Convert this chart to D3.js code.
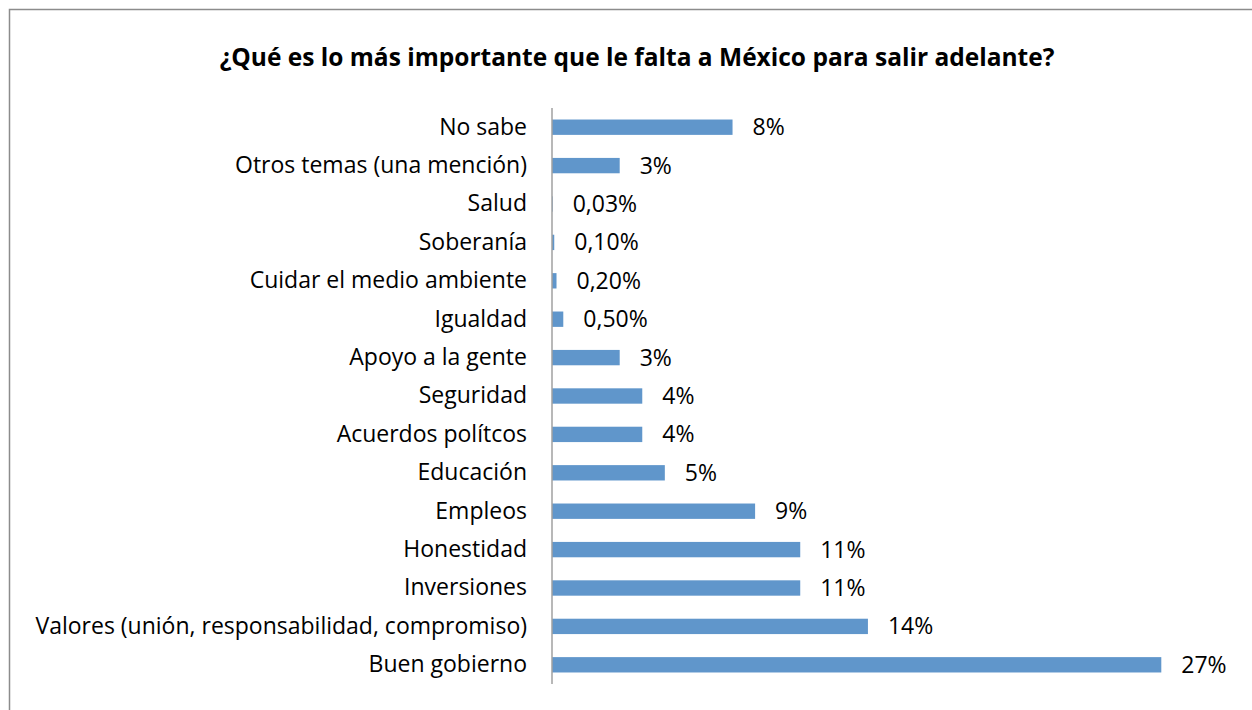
<!DOCTYPE html>
<html>
  <head>
    <meta charset="utf-8">
    <title>falta a México</title>
    <script src="https://cdn.jsdelivr.net/npm/d3@7"></script>
    <style>
      body { margin: 0; background: #fff; }
      text { font-family: "Open Sans", "DejaVu Sans", sans-serif; fill: #000; }
    </style>
  </head>
  <body>
    <svg width="1252" height="710"></svg>
    <script>
      // datos, de arriba hacia abajo
      var categories = [
        "No sabe",
        "Otros temas (una mención)",
        "Salud",
        "Soberanía",
        "Cuidar el medio ambiente",
        "Igualdad",
        "Apoyo a la gente",
        "Seguridad",
        "Acuerdos polítcos",
        "Educación",
        "Empleos",
        "Honestidad",
        "Inversiones",
        "Valores (unión, responsabilidad, compromiso)",
        "Buen gobierno"
      ];
      var values = [8, 3, 0.03, 0.1, 0.2, 0.5, 3, 4, 4, 5, 9, 11, 11, 14, 27];
      var valueLabels = ["8%", "3%", "0,03%", "0,10%", "0,20%", "0,50%", "3%", "4%", "4%", "5%", "9%", "11%", "11%", "14%", "27%"];
      var title = "¿Qué es lo más importante que le falta a México para salir adelante?";

      var svg = d3.select("svg");

      // marco del gráfico
      svg.append("rect")
        .attr("x", 9.5).attr("y", 9.5)
        .attr("width", 1300).attr("height", 800)
        .attr("fill", "#fff")
        .attr("stroke", "#8c8c8c")
        .attr("stroke-width", 1.5);

      svg.append("text")
        .attr("x", 637).attr("y", 66)
        .attr("text-anchor", "middle")
        .attr("font-size", 24.5)
        .attr("font-weight", "bold")
        .text(title);

      var data = categories.map(function(c, i) {
        return {name: c, value: values[i], label: valueLabels[i]};
      });

      var x = d3.scaleLinear().domain([0, 30]).range([552, 1229]);
      var y = d3.scaleBand().domain(categories).range([108, 684])
        .paddingInner(0.6).paddingOuter(0.3);

      svg.append("g").selectAll("rect")
        .data(data)
        .enter()
        .append("rect")
        .attr("x", x(0))
        .attr("y", function(d) { return y(d.name); })
        .attr("width", function(d) { return x(d.value) - x(0); })
        .attr("height", y.bandwidth())
        .attr("fill", "#6096cb");

      // eje vertical con las categorías
      var yAxis = svg.append("g")
        .attr("transform", "translate(" + x(0) + ",0)")
        .call(d3.axisLeft(y).tickSize(0).tickPadding(25));
      yAxis.select(".domain").attr("stroke", "#a0a0a0").attr("stroke-width", 1.5)
        .attr("d", "M0,108V684");
      yAxis.selectAll("text")
        .attr("font-size", 23)
        .attr("font-family", "\"Open Sans\", sans-serif")
        .attr("fill", "#000");

      svg.append("g").selectAll("text")
        .data(data)
        .enter()
        .append("text")
        .attr("x", function(d) { return x(d.value) + 20; })
        .attr("y", function(d) { return y(d.name) + y.bandwidth() / 2; })
        .attr("dy", "0.35em")
        .attr("font-size", 23)
        .text(function(d) { return d.label; });
    </script>
  </body>
</html>
